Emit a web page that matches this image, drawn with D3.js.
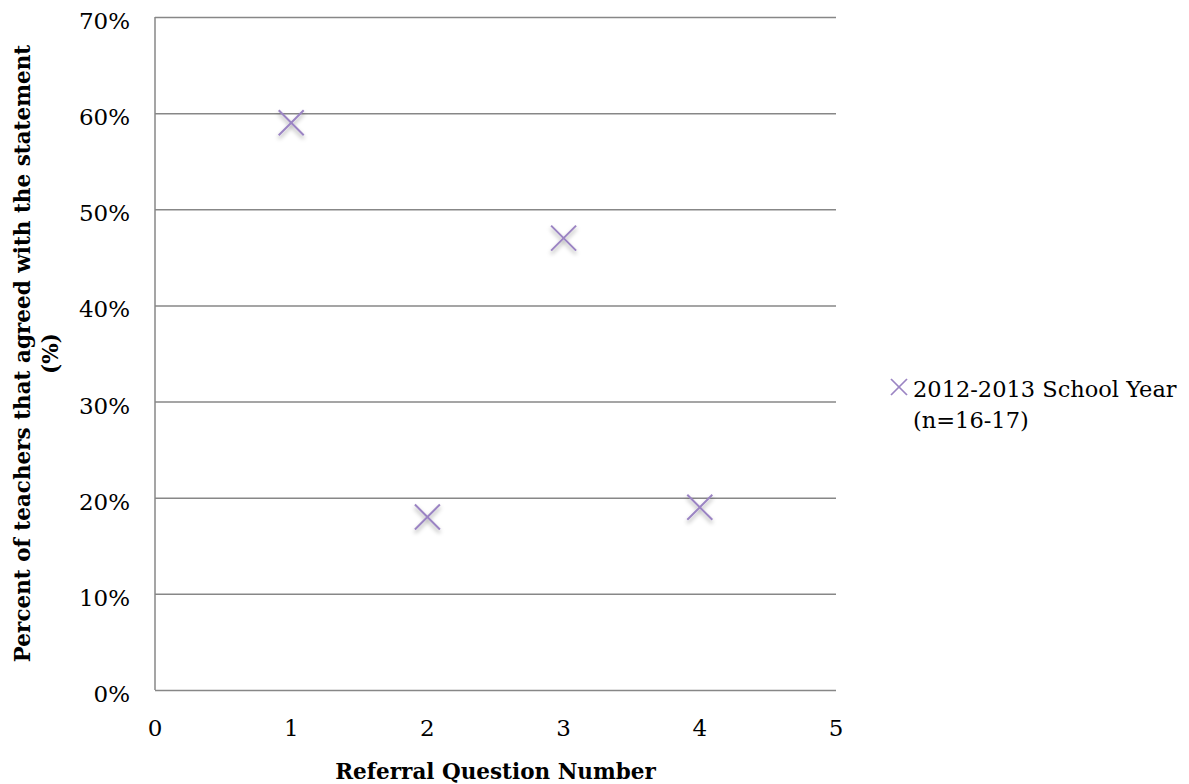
<!DOCTYPE html>
<html>
<head>
<meta charset="utf-8">
<script src="https://cdn.jsdelivr.net/npm/d3@7"></script>
<style>
  html, body { margin: 0; padding: 0; background: #ffffff; }
  svg { display: block; }
  .tick-label { font-family: "DejaVu Serif", serif; font-size: 23px; fill: #000; }
  .axis-title { font-family: "DejaVu Serif", serif; font-size: 21.5px; font-weight: bold; fill: #000; }
  .legend-text { font-family: "DejaVu Serif", serif; font-size: 22.5px; fill: #000; }
</style>
</head>
<body>
<script>
// Referral question numbers and share of teachers agreeing
const questions = [1, 2, 3, 4];
const agreePct = [0.59, 0.18, 0.47, 0.19];
const seriesName = ["2012-2013 School Year", "(n=16-17)"];
const xTicks = [0, 1, 2, 3, 4, 5];
const yTicks = [0, 0.1, 0.2, 0.3, 0.4, 0.5, 0.6, 0.7];
const xTitle = "Referral Question Number";
const yTitle = ["Percent of teachers that agreed with the statement", "(%)"];

const W = 1189, H = 784;
const plot = { left: 155, right: 836, top: 17, bottom: 690 };
const gridColor = "#878787";
const markColor = "#9b84c3";

const svg = d3.select("body").append("svg")
  .attr("width", W).attr("height", H);

const defs = svg.append("defs");
const shadow = defs.append("filter").attr("id", "markShadow")
  .attr("x", "-50%").attr("y", "-50%").attr("width", "200%").attr("height", "200%");
shadow.append("feDropShadow")
  .attr("dx", 0).attr("dy", 3).attr("stdDeviation", 2)
  .attr("flood-color", "#000").attr("flood-opacity", 0.35);

const x = d3.scaleLinear().domain([0, 5]).range([plot.left, plot.right]);
const y = d3.scaleLinear().domain([0, 0.7]).range([plot.bottom, plot.top]);

// Horizontal gridlines via the y axis
const yAxis = d3.axisLeft(y).tickValues(yTicks)
  .tickSize(-(plot.right - plot.left)).tickFormat("");
const gy = svg.append("g").attr("transform", `translate(${plot.left},0)`).call(yAxis);
gy.select(".domain").remove();
gy.selectAll(".tick line").attr("stroke", gridColor).attr("stroke-width", 1.5);

// Left axis line
svg.append("line")
  .attr("x1", plot.left).attr("x2", plot.left)
  .attr("y1", y(0.7)).attr("y2", y(0))
  .attr("stroke", gridColor).attr("stroke-width", 1.5);

// Y tick labels
svg.append("g").selectAll("text").data(yTicks).join("text")
  .attr("class", "tick-label")
  .attr("x", 130)
  .attr("y", d => y(d) + 12)
  .attr("text-anchor", "end")
  .text(d => d3.format(".0%")(d));

// X tick labels
svg.append("g").selectAll("text").data(xTicks).join("text")
  .attr("class", "tick-label")
  .attr("x", d => x(d))
  .attr("y", 736)
  .attr("text-anchor", "middle")
  .text(d => d);

// Axis titles
svg.append("text").attr("class", "axis-title")
  .attr("x", (plot.left + plot.right) / 2).attr("y", 779)
  .attr("text-anchor", "middle").text(xTitle);

const yt = svg.append("g")
  .attr("transform", `translate(0,${(plot.top + plot.bottom) / 2}) rotate(-90)`);
yt.selectAll("text").data(yTitle).join("text")
  .attr("class", "axis-title")
  .attr("x", 0)
  .attr("y", (d, i) => 30 + i * 28)
  .attr("text-anchor", "middle")
  .text(d => d);

// X-shaped markers
function cross(sel, r) {
  sel.append("line").attr("x1", -r).attr("y1", -r).attr("x2", r).attr("y2", r);
  sel.append("line").attr("x1", -r).attr("y1", r).attr("x2", r).attr("y2", -r);
}

const points = questions.map((q, i) => ({ q, v: agreePct[i] }));
svg.append("g").selectAll("g").data(points).join("g")
  .attr("transform", d => `translate(${x(d.q)},${y(d.v)})`)
  .attr("stroke", markColor).attr("stroke-width", 2)
  .attr("filter", "url(#markShadow)")
  .each(function () { cross(d3.select(this), 12.5); });

// Legend
const lg = svg.append("g").attr("transform", "translate(899,387)");
lg.append("g").attr("stroke", markColor).attr("stroke-width", 1.7)
  .call(cross, 8);
lg.selectAll("text").data(seriesName).join("text")
  .attr("class", "legend-text")
  .attr("x", 14)
  .attr("y", (d, i) => 10 + i * 31)
  .text(d => d);
</script>
</body>
</html>
